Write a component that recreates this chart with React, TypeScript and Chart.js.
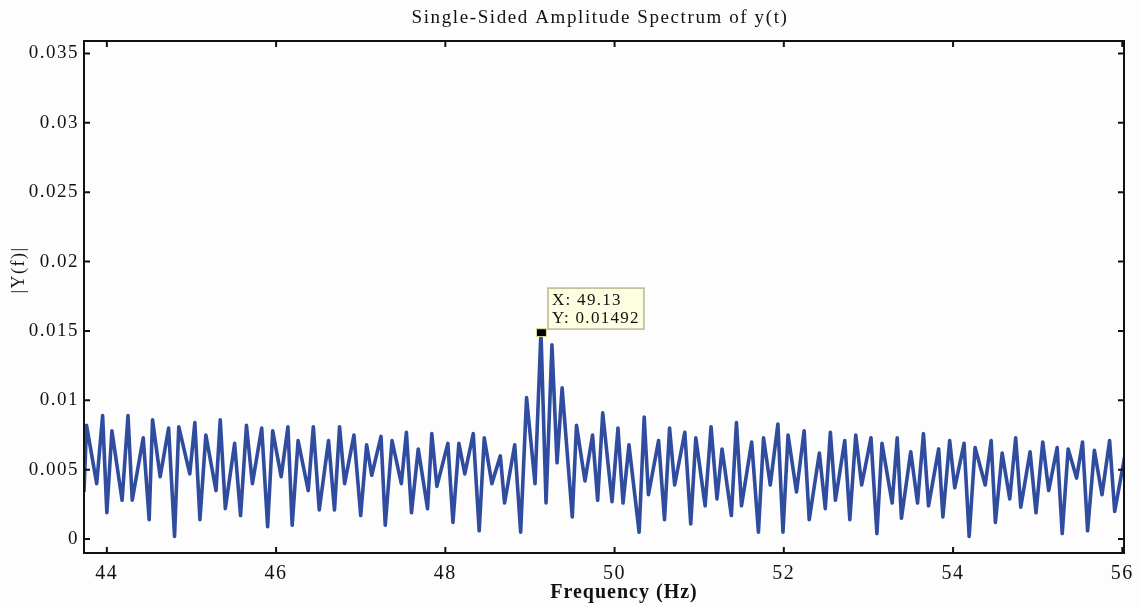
import React, { useEffect, useRef } from "react";
import { Chart, registerables } from "chart.js";

Chart.register(...registerables);

// ---- Data ----
const freqHz = [
  43.73, 43.76, 43.88, 43.95, 44.0, 44.06, 44.18, 44.25, 44.3, 44.43, 44.5, 44.54, 44.63, 44.73, 44.8, 44.85, 44.98, 45.04, 45.1, 45.17, 45.29, 45.34, 45.4, 45.51, 45.58, 45.65, 45.72,
  45.83, 45.9, 45.96, 46.06, 46.14, 46.19, 46.26, 46.38, 46.44, 46.51, 46.62, 46.69, 46.75, 46.81, 46.92, 47.0, 47.07, 47.13, 47.24, 47.29, 47.37, 47.48, 47.54, 47.6, 47.68, 47.79, 47.84,
  47.9, 48.03, 48.09, 48.16, 48.23, 48.33, 48.4, 48.46, 48.55, 48.65, 48.7, 48.82, 48.89, 48.96, 49.06, 49.13, 49.19, 49.26, 49.32, 49.38, 49.5, 49.55, 49.65, 49.74, 49.8, 49.86,
  49.97, 50.04, 50.1, 50.17, 50.29, 50.35, 50.4, 50.52, 50.59, 50.65, 50.71, 50.83, 50.9, 50.96, 51.07, 51.14, 51.21, 51.27, 51.38, 51.44, 51.5, 51.62, 51.7, 51.76, 51.84, 51.93, 51.99,
  52.05, 52.15, 52.24, 52.3, 52.42, 52.49, 52.55, 52.61, 52.72, 52.78, 52.85, 52.92, 53.03, 53.1, 53.16, 53.28, 53.34, 53.39, 53.5, 53.58, 53.65, 53.71, 53.83, 53.88, 53.96, 54.02,
  54.13, 54.19, 54.26, 54.38, 54.45, 54.5, 54.58, 54.67, 54.74, 54.8, 54.91, 54.98, 55.06, 55.13, 55.23, 55.29, 55.36, 55.46, 55.53, 55.59, 55.67, 55.76, 55.85, 55.91, 56.03,
];

const amplitude = [
  0.0034, 0.0082, 0.004, 0.0089, 0.0019, 0.0078, 0.0028, 0.0089, 0.0028, 0.0073, 0.0014, 0.0086, 0.0045, 0.008, 0.0002, 0.0081, 0.0047, 0.0084, 0.0014, 0.0075, 0.0035, 0.0086, 0.0022, 0.0069, 0.0017, 0.0082, 0.004,
  0.008, 0.0009, 0.0078, 0.0045, 0.0081, 0.001, 0.0071, 0.0035, 0.0081, 0.0021, 0.0071, 0.0021, 0.0081, 0.004, 0.0075, 0.0017, 0.0068, 0.0046, 0.0074, 0.001, 0.0071, 0.004, 0.0077, 0.0019, 0.0065, 0.0022, 0.0076,
  0.0038, 0.0069, 0.0012, 0.0069, 0.0047, 0.0076, 0.0006, 0.0073, 0.004, 0.006, 0.0026, 0.0068, 0.0005, 0.0102, 0.004, 0.01492, 0.0026, 0.014, 0.0055, 0.0109, 0.0016, 0.0082, 0.0042, 0.0075, 0.0028, 0.0091,
  0.0027, 0.008, 0.0026, 0.0068, 0.0005, 0.0088, 0.0032, 0.0071, 0.0014, 0.008, 0.0039, 0.0077, 0.0011, 0.0073, 0.0024, 0.0081, 0.0029, 0.0065, 0.0017, 0.0084, 0.0024, 0.007, 0.0005, 0.0073, 0.0039, 0.0083, 0.0005,
  0.0075, 0.0034, 0.0078, 0.0014, 0.0062, 0.0022, 0.0077, 0.0028, 0.0071, 0.0014, 0.0075, 0.0039, 0.0073, 0.0004, 0.0069, 0.0026, 0.0073, 0.0015, 0.0063, 0.0026, 0.0076, 0.0024, 0.0065, 0.0016, 0.0071, 0.0037,
  0.0069, 0.0002, 0.0066, 0.0039, 0.0071, 0.0012, 0.0062, 0.0029, 0.0073, 0.0023, 0.0063, 0.0019, 0.007, 0.0035, 0.0066, 0.0004, 0.0065, 0.0044, 0.007, 0.0006, 0.0064, 0.0032, 0.0071, 0.002, 0.006,
];

const xTicks = [44, 46, 48, 50, 52, 54, 56];
const xTickLabels = ["44", "46", "48", "50", "52", "54", "56"];
const yTicks = [0, 0.005, 0.01, 0.015, 0.02, 0.025, 0.03, 0.035];
const yTickLabels = ["0", "0.005", "0.01", "0.015", "0.02", "0.025", "0.03", "0.035"];
const xRange = [43.73, 56.02];
const yRange = [-0.001, 0.0359];

const tipX = 49.13;
const tipY = 0.01492;
const tipLines = ["X: 49.13", "Y: 0.01492"];

const titleText = "Single-Sided Amplitude Spectrum of y(t)";
const xAxisTitle = "Frequency (Hz)";
const yAxisTitle = "|Y(f)|";

const SERIF = '"Liberation Serif", "DejaVu Serif", serif';
const LINE_COLOR = "#2f4c9f";

const spacingPlugin = {
  id: "letterSpacing",
  beforeLayout(chart: any) {
    chart.ctx.letterSpacing = "1.5px";
  },
  beforeDraw(chart: any) {
    chart.ctx.letterSpacing = "1.5px";
  },
};

const decorPlugin = {
  id: "matlabDecor",
  afterDraw(chart: any) {
    const { ctx, chartArea } = chart;
    const xs = chart.scales.x;
    const ys = chart.scales.y;
    const { left, right, top, bottom } = chartArea;
    ctx.save();

    // frame
    ctx.strokeStyle = "#111";
    ctx.lineWidth = 2;
    ctx.strokeRect(left, top, right - left, bottom - top);

    // inward ticks
    ctx.lineWidth = 2;
    const tl = 6;
    ctx.beginPath();
    xTicks.forEach((v) => {
      const px = xs.getPixelForValue(v);
      ctx.moveTo(px, bottom);
      ctx.lineTo(px, bottom - tl);
      ctx.moveTo(px, top);
      ctx.lineTo(px, top + tl);
    });
    yTicks.forEach((v) => {
      const py = ys.getPixelForValue(v);
      ctx.moveTo(left, py);
      ctx.lineTo(left + tl, py);
      ctx.moveTo(right, py);
      ctx.lineTo(right - tl, py);
    });
    ctx.stroke();

    ctx.fillStyle = "#111";
    ctx.textAlign = "center";
    ctx.textBaseline = "middle";

    // title
    ctx.letterSpacing = "1.6px";
    ctx.font = `19px ${SERIF}`;
    ctx.fillText(titleText, 600, 18);

    // x axis title
    ctx.letterSpacing = "1px";
    ctx.font = `bold 20px ${SERIF}`;
    ctx.fillText(xAxisTitle, 624, 593);

    // y axis title
    ctx.save();
    ctx.translate(19, 270);
    ctx.rotate(-Math.PI / 2);
    ctx.letterSpacing = "1.5px";
    ctx.font = `18px ${SERIF}`;
    ctx.fillText(yAxisTitle, 0, 0);
    ctx.restore();

    // data tip
    const mx = xs.getPixelForValue(tipX);
    const my = ys.getPixelForValue(tipY);
    ctx.fillStyle = "#000";
    ctx.fillRect(mx - 4, my - 3, 9, 7);
    ctx.strokeStyle = "#d8d890";
    ctx.lineWidth = 1;
    ctx.strokeRect(mx - 4.5, my - 3.5, 10, 8);

    const bx = mx + 7;
    const by = my - 44;
    const bw = 96;
    const bh = 41;
    ctx.fillStyle = "#fdfde2";
    ctx.fillRect(bx, by, bw, bh);
    ctx.strokeStyle = "#b8b890";
    ctx.lineWidth = 1.5;
    ctx.strokeRect(bx, by, bw, bh);
    ctx.fillStyle = "#111";
    ctx.textAlign = "left";
    ctx.letterSpacing = "1.3px";
    ctx.font = `17px ${SERIF}`;
    ctx.fillText(tipLines[0], bx + 4, by + 12);
    ctx.fillText(tipLines[1], bx + 4, by + 30);

    ctx.restore();
  },
};

export default function App() {
  const canvasRef = useRef<HTMLCanvasElement | null>(null);

  useEffect(() => {
    const canvas = canvasRef.current;
    if (!canvas) return;
    const points = freqHz.map((f, i) => ({ x: f, y: amplitude[i] }));
    const chart = new Chart(canvas, {
      type: "line",
      data: {
        datasets: [
          {
            data: points,
            borderColor: LINE_COLOR,
            borderWidth: 3.6,
            pointRadius: 0,
            tension: 0,
            borderJoinStyle: "round",
            fill: false,
          },
        ],
      },
      options: {
        responsive: false,
        animation: false,
        layout: { padding: { top: 41, right: 15, left: 0, bottom: 0 } },
        plugins: {
          legend: { display: false },
          title: { display: false },
          tooltip: { enabled: false },
        },
        scales: {
          x: {
            type: "linear",
            min: xRange[0],
            max: xRange[1],
            grid: { display: false, drawTicks: false },
            border: { display: false },
            afterBuildTicks: (scale: any) => {
              scale.ticks = xTicks.map((v) => ({ value: v }));
            },
            afterFit: (scale: any) => {
              scale.height = 54;
              scale.paddingLeft = 0;
              scale.paddingRight = 0;
            },
            ticks: {
              autoSkip: false,
              maxRotation: 0,
              padding: 9,
              color: "#111",
              font: { family: SERIF, size: 20 },
              callback: (value: any) => {
                const i = xTicks.indexOf(Number(value));
                return i >= 0 ? xTickLabels[i] : "";
              },
            },
          },
          y: {
            type: "linear",
            min: yRange[0],
            max: yRange[1],
            grid: { display: false, drawTicks: false },
            border: { display: false },
            afterBuildTicks: (scale: any) => {
              scale.ticks = yTicks.map((v) => ({ value: v }));
            },
            afterFit: (scale: any) => {
              scale.width = 84;
              scale.paddingTop = 0;
              scale.paddingBottom = 0;
            },
            ticks: {
              autoSkip: false,
              padding: 5,
              color: "#111",
              font: { family: SERIF, size: 19 },
              callback: (value: any) => {
                const i = yTicks.findIndex((t) => Math.abs(t - Number(value)) < 1e-9);
                return i >= 0 ? yTickLabels[i] : "";
              },
            },
          },
        },
      },
      plugins: [spacingPlugin, decorPlugin],
    } as any);
    return () => chart.destroy();
  }, []);

  return (
    <div
      style={{
        position: "absolute",
        left: 0,
        top: 0,
        width: 1139,
        height: 607,
        background: "#fdfdfd",
      }}
    >
      <canvas ref={canvasRef} width={1139} height={607} />
    </div>
  );
}
